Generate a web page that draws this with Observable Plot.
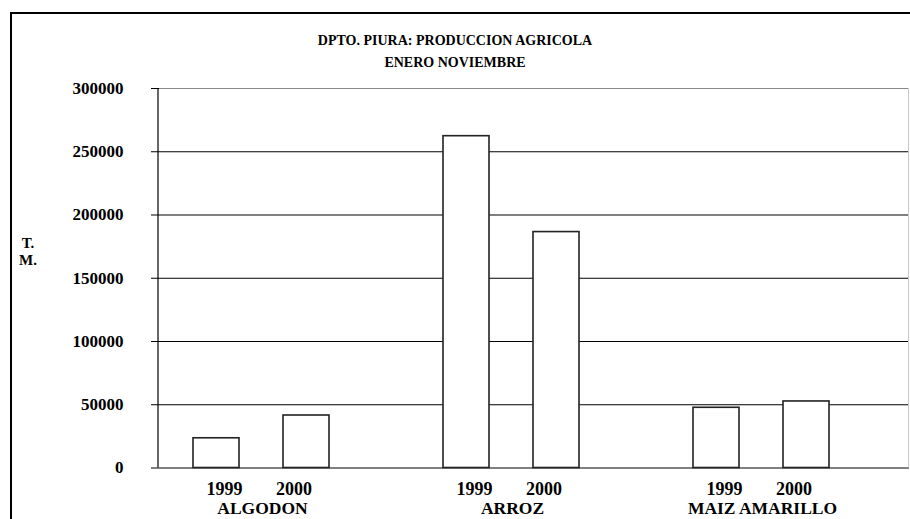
<!DOCTYPE html>
<html>
<head>
<meta charset="utf-8">
<script src="https://cdn.jsdelivr.net/npm/d3@7"></script>
<script src="https://cdn.jsdelivr.net/npm/@observablehq/plot@0.6"></script>
<style>
  html, body { margin: 0; padding: 0; background: white; overflow: hidden; }
</style>
</head>
<body>
<div id="chart"></div>
<script>
// ---- data ----
const titleLines = ["DPTO. PIURA: PRODUCCION AGRICOLA", "ENERO NOVIEMBRE"];
const yLabelLines = ["T.", "M."];
const crops = ["ALGODON", "ARROZ", "MAIZ AMARILLO"];
const years = ["1999", "2000"];
const values1999 = [23500, 262300, 47600];
const values2000 = [41500, 186500, 52600];
const yTicks = [0, 50000, 100000, 150000, 200000, 250000, 300000];

const data = [];
crops.forEach((c, i) => {
  data.push({crop: c, year: years[0], value: values1999[i]});
  data.push({crop: c, year: years[1], value: values2000[i]});
});

const font = "Liberation Serif, Times New Roman, serif";

const plot = Plot.plot({
  width: 910,
  height: 519,
  marginLeft: 158,
  marginRight: 1,
  marginTop: 88,
  marginBottom: 51.5,
  style: {fontFamily: font, fontWeight: "bold", fontSize: "17px", background: "white", color: "black"},
  fx: {domain: crops, padding: 0, axis: null},
  x: {domain: years, paddingInner: 0.49, paddingOuter: 0.62, align: 0.3, axis: null},
  y: {domain: [0, 300000], ticks: yTicks, tickFormat: d => String(d), tickSize: 8, tickPadding: 28, label: null},
  marks: [
    Plot.ruleY(yTicks, {stroke: d => d === 300000 ? "#888" : "#000", strokeWidth: 1}),
    Plot.barY(data, {fx: "crop", x: "year", y: "value", fill: "white", stroke: "#222", strokeWidth: 1.6}),
    Plot.text(data.filter(d => d.year === years[0]), {fx: "crop", x: "year", text: "year", frameAnchor: "bottom", lineAnchor: "middle", dy: 21, dx: 8, fontSize: 18}),
    Plot.text(data.filter(d => d.year === years[1]), {fx: "crop", x: "year", text: "year", frameAnchor: "bottom", lineAnchor: "middle", dy: 21, dx: -12.5, fontSize: 18}),
    Plot.text(crops, {fx: d => d, text: d => d, frameAnchor: "bottom", lineAnchor: "middle", dy: 40.5, dx: -22, fontSize: 17.5})
  ]
});

const svg = d3.select(plot);
const y = plot.scale("y");
const y0 = y.apply(0), yTop = y.apply(300000);

// left axis line
svg.append("line")
  .attr("x1", 158).attr("x2", 158).attr("y1", yTop).attr("y2", y0)
  .attr("stroke", "black").attr("stroke-width", 1.2);
// right plot-area border
svg.append("line")
  .attr("x1", 908.5).attr("x2", 908.5).attr("y1", yTop).attr("y2", y0)
  .attr("stroke", "#c8c8c8").attr("stroke-width", 1);

// outer chart border
svg.append("rect")
  .attr("x", 11).attr("y", 13).attr("width", 910).attr("height", 600)
  .attr("fill", "none").attr("stroke", "black").attr("stroke-width", 2);

// title
const tg = svg.append("g").attr("font-weight", "bold")
  .attr("font-size", 14).attr("text-anchor", "middle").attr("fill", "black");
titleLines.forEach((t, i) => {
  tg.append("text").attr("x", 455).attr("y", 45 + i * 22).text(t);
});

// y axis label
const lg = svg.append("g").attr("font-weight", "bold")
  .attr("font-size", 15).attr("fill", "black");
yLabelLines.forEach((t, i) => {
  lg.append("text").attr("x", 28).attr("y", 248 + i * 17).text(t);
});

// force serif bold on all text (incl. axis ticks)
svg.selectAll("text").style("font-family", font).style("font-weight", "bold");

document.getElementById("chart").appendChild(plot);
</script>
</body>
</html>
